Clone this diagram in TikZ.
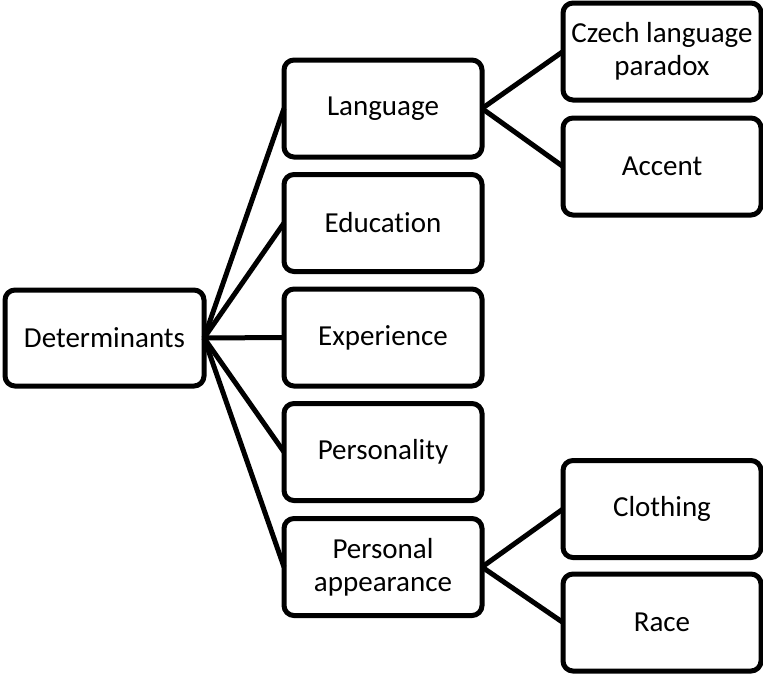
\documentclass[tikz,border=0pt]{standalone}
\usepackage{fontspec}
\setmainfont[Ligatures=NoCommon]{Carlito}
\begin{document}
\begin{tikzpicture}[x=1pt,y=-1pt,
  box/.style={draw=black, line width=5pt, rounded corners=10pt, fill=white,
    minimum width=198pt, minimum height=97pt, inner sep=0pt, outer sep=0pt,
    align=center, font=\fontsize{29}{33}\selectfont},
  link/.style={draw=black, line width=5pt}]
  \useasboundingbox (0,0) rectangle (763,675);
  % root
  \node[box, minimum width=199pt, minimum height=96pt] (det) at (104.5,338) {Determinants};
  % middle column
  \node[box] (lang) at (383,108.5) {Language};
  \node[box] (edu)  at (383,223) {Education};
  \node[box] (exp)  at (383,337.5) {Experience};
  \node[box] (pers) at (383,452) {Personality};
  \node[box] (app)  at (383,567) {Personal\\appearance};
  % right column
  \node[box] (czech)  at (662,51.5) {Czech language\\paradox};
  \node[box] (accent) at (662,166.5) {Accent};
  \node[box] (cloth)  at (662,509) {Clothing};
  \node[box] (race)   at (662,622.5) {Race};
  % connectors
  \foreach \n in {lang,edu,exp,pers,app}
    \draw[link] (det.east) -- (\n.west);
  \draw[link] (lang.east) -- (czech.west);
  \draw[link] (lang.east) -- (accent.west);
  \draw[link] (app.east) -- (cloth.west);
  \draw[link] (app.east) -- (race.west);
\end{tikzpicture}
\end{document}
